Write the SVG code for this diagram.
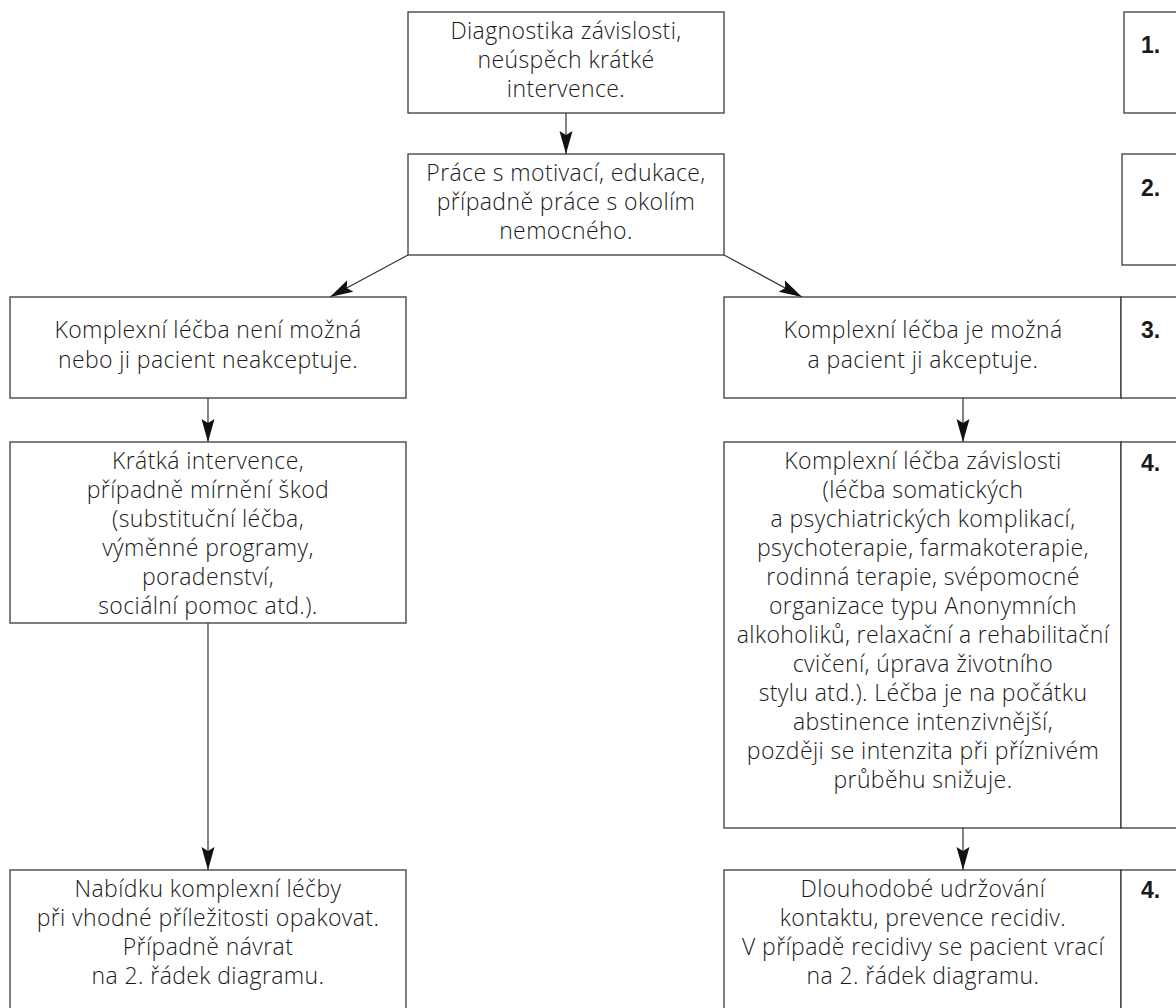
<svg xmlns="http://www.w3.org/2000/svg" width="1176" height="1008" viewBox="0 0 1176 1008">
<defs>
<style>
.box{fill:#fff;stroke:#3a3a3a;stroke-width:1.3}
.t{font-family:"Open Sans","Noto Sans",sans-serif;font-weight:300;font-size:23px;letter-spacing:0.4px;fill:#1a1a1a;text-anchor:middle}
.n{font-family:"Liberation Sans",Arial,sans-serif;font-weight:bold;font-size:23px;fill:#1a1a1a}
.c{fill:none;stroke:#333;stroke-width:1.2;marker-end:url(#ah)}
</style>
<marker id="ah" viewBox="-23 -8 23 16" refX="0" refY="0" markerWidth="23" markerHeight="16" markerUnits="userSpaceOnUse" orient="auto">
<path d="M0,0 L-23,-6.5 L-19,0 L-23,6.5 Z" fill="#111"/>
</marker>
</defs>
<rect width="1176" height="1008" fill="#fff"/>

<g id="connectors">
<line class="c" x1="566" y1="113" x2="566" y2="154"/>
<line class="c" x1="408" y1="255" x2="330" y2="297"/>
<line class="c" x1="724" y1="255" x2="802" y2="297"/>
<line class="c" x1="208" y1="398" x2="208" y2="442"/>
<line class="c" x1="208" y1="623" x2="208" y2="870"/>
<line class="c" x1="963" y1="398" x2="963" y2="442"/>
<line class="c" x1="963" y1="828" x2="963" y2="870"/>
</g>

<g id="n1">
<rect class="box" x="408" y="12" width="316" height="101"/>
<text class="t" x="566" y="39">Diagnostika závislosti,</text>
<text class="t" x="566" y="68">neúspěch krátké</text>
<text class="t" x="566" y="97">intervence.</text>
</g>
<g id="n2">
<rect class="box" x="408" y="154" width="316" height="101"/>
<text class="t" x="566" y="181">Práce s motivací, edukace,</text>
<text class="t" x="566" y="210">případně práce s okolím</text>
<text class="t" x="566" y="239">nemocného.</text>
</g>
<g id="n3l">
<rect class="box" x="10" y="297" width="396" height="101"/>
<text class="t" x="208" y="338">Komplexní léčba není možná</text>
<text class="t" x="208" y="368">nebo ji pacient neakceptuje.</text>
</g>
<g id="n3r">
<rect class="box" x="724" y="297" width="397" height="101"/>
<text class="t" x="923" y="338">Komplexní léčba je možná</text>
<text class="t" x="923" y="368">a pacient ji akceptuje.</text>
</g>
<g id="n4l">
<rect class="box" x="10" y="442" width="396" height="181"/>
<text class="t" x="208" y="469">Krátká intervence,</text>
<text class="t" x="208" y="498">případně mírnění škod</text>
<text class="t" x="208" y="527">(substituční léčba,</text>
<text class="t" x="208" y="556">výměnné programy,</text>
<text class="t" x="208" y="585">poradenství,</text>
<text class="t" x="208" y="614">sociální pomoc atd.).</text>
</g>
<g id="n4r">
<rect class="box" x="724" y="442" width="397" height="386"/>
<text class="t" x="923" y="469">Komplexní léčba závislosti</text>
<text class="t" x="923" y="498">(léčba somatických</text>
<text class="t" x="923" y="527">a psychiatrických komplikací,</text>
<text class="t" x="923" y="556">psychoterapie, farmakoterapie,</text>
<text class="t" x="923" y="585">rodinná terapie, svépomocné</text>
<text class="t" x="923" y="614">organizace typu Anonymních</text>
<text class="t" x="923" y="643">alkoholiků, relaxační a rehabilitační</text>
<text class="t" x="923" y="672">cvičení, úprava životního</text>
<text class="t" x="923" y="701">stylu atd.). Léčba je na počátku</text>
<text class="t" x="923" y="730">abstinence intenzivnější,</text>
<text class="t" x="923" y="759">později se intenzita při příznivém</text>
<text class="t" x="923" y="788">průběhu snižuje.</text>
</g>
<g id="n5l">
<rect class="box" x="10" y="870" width="396" height="150"/>
<text class="t" x="208" y="897">Nabídku komplexní léčby</text>
<text class="t" x="208" y="926">při vhodné příležitosti opakovat.</text>
<text class="t" x="208" y="955">Případně návrat</text>
<text class="t" x="208" y="984">na 2. řádek diagramu.</text>
</g>
<g id="n5r">
<rect class="box" x="724" y="870" width="397" height="150"/>
<text class="t" x="923" y="897">Dlouhodobé udržování</text>
<text class="t" x="923" y="926">kontaktu, prevence recidiv.</text>
<text class="t" x="923" y="955">V případě recidivy se pacient vrací</text>
<text class="t" x="923" y="984">na 2. řádek diagramu.</text>
</g>

<g id="s1">
<rect class="box" x="1124" y="12" width="70" height="101"/>
<text class="n" x="1141" y="53">1.</text>
</g>
<g id="s2">
<rect class="box" x="1122" y="154" width="70" height="111"/>
<text class="n" x="1141" y="196">2.</text>
</g>
<g id="s3">
<rect class="box" x="1121" y="297" width="70" height="101"/>
<text class="n" x="1141" y="338">3.</text>
</g>
<g id="s4">
<rect class="box" x="1121" y="442" width="70" height="386"/>
<text class="n" x="1141" y="471">4.</text>
</g>
<g id="s5">
<rect class="box" x="1121" y="870" width="70" height="150"/>
<text class="n" x="1141" y="898">4.</text>
</g>
</svg>
